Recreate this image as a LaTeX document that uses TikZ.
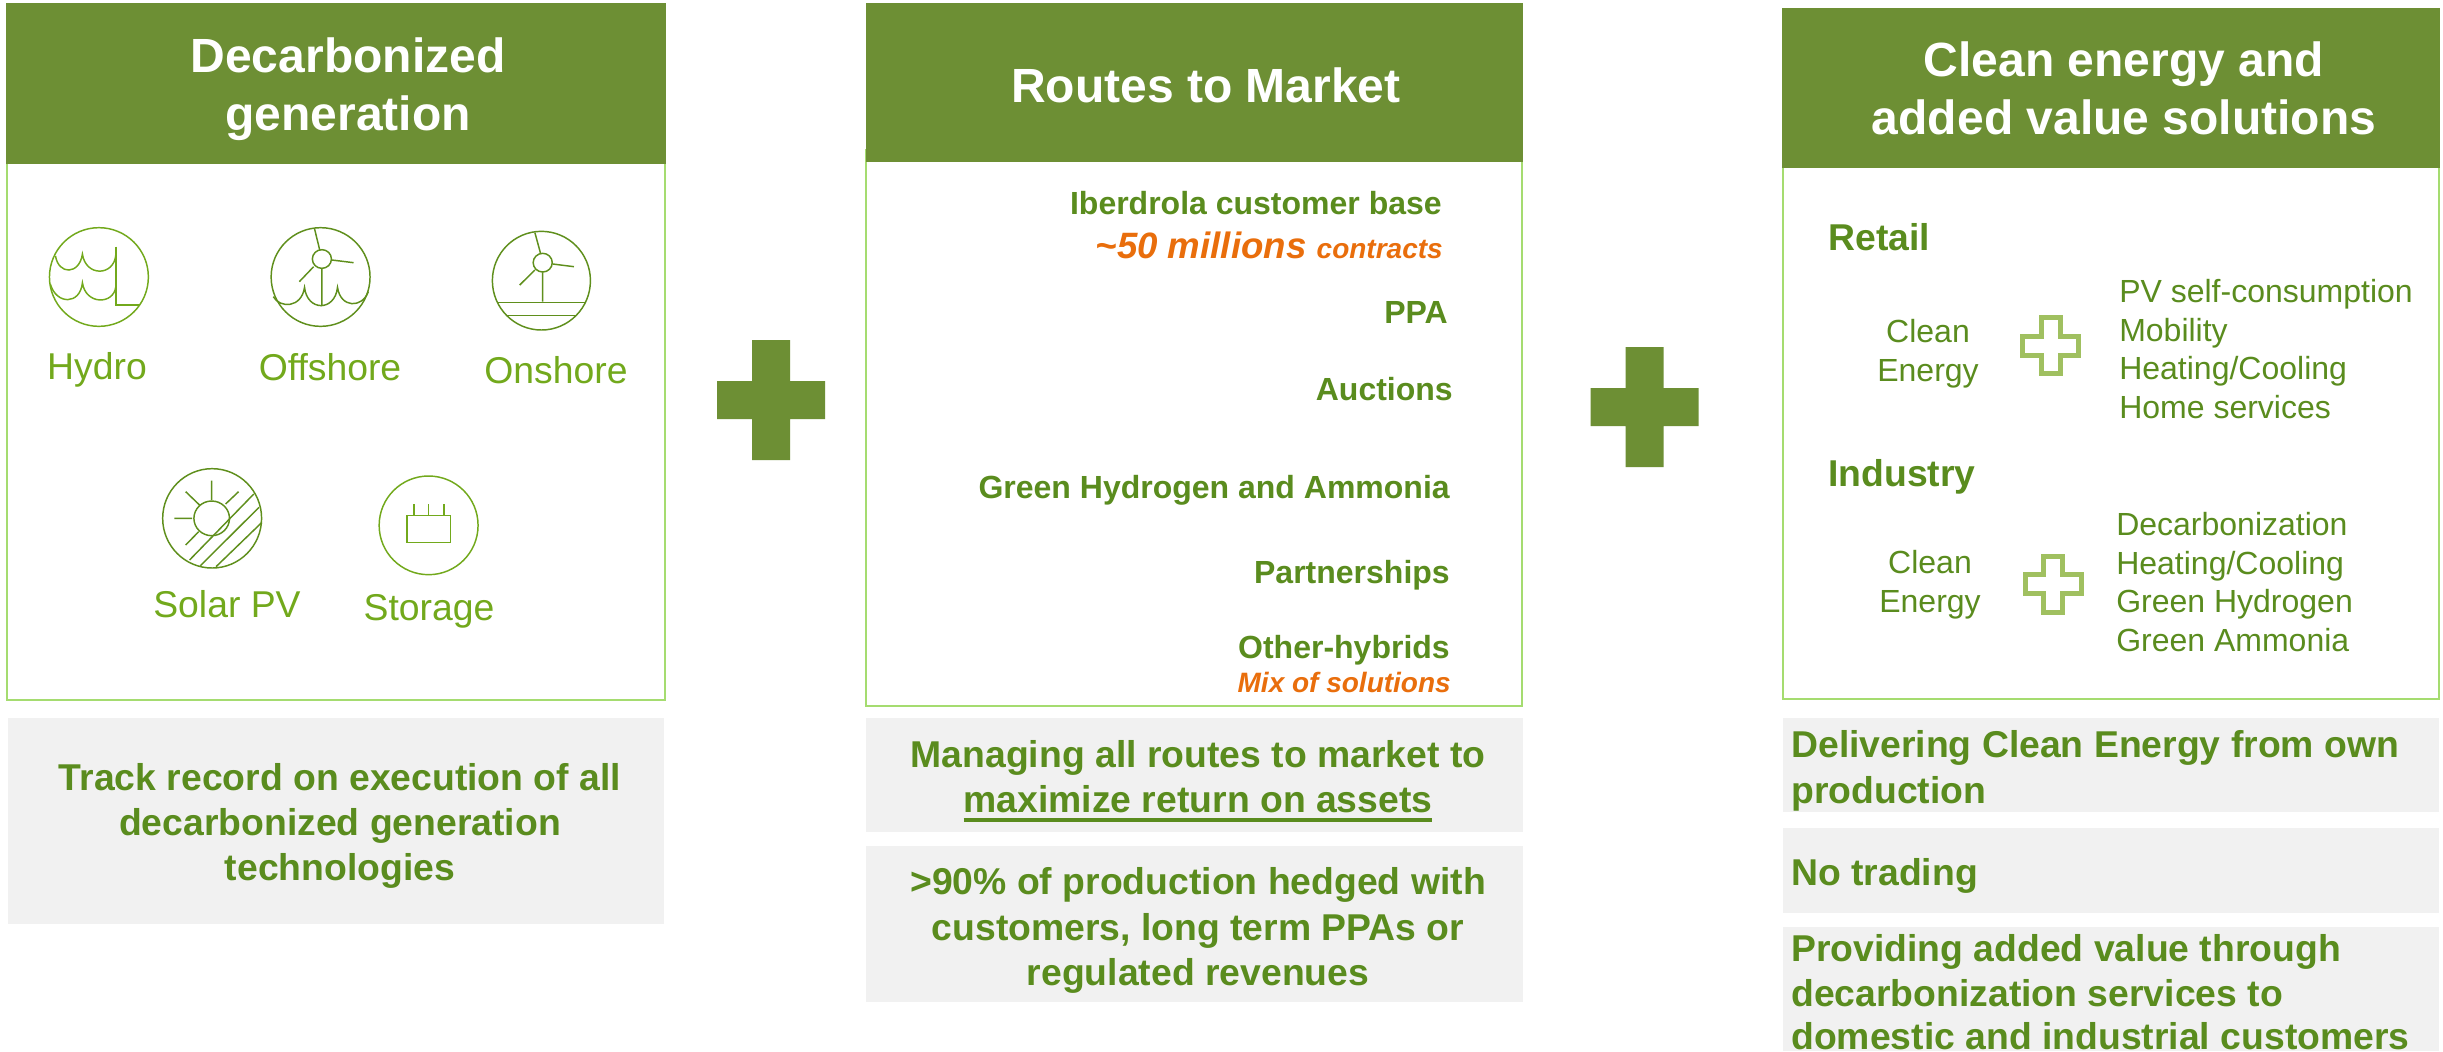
\documentclass[tikz,border=0pt]{standalone}
\usepackage{fontspec}
\setmainfont{Liberation Sans}
\definecolor{hdr}{HTML}{6D8F34}
\definecolor{edge}{HTML}{A5DC70}
\definecolor{txt}{HTML}{5A8C1E}
\definecolor{iconA}{HTML}{72A91C}
\definecolor{iconB}{HTML}{5F8F1C}
\definecolor{orng}{HTML}{E96E0C}
\definecolor{gry}{HTML}{F1F1F1}
\definecolor{plusl}{HTML}{A0C060}
\newcommand{\myul}[1]{\setbox0\hbox{#1}\rlap{\copy0}\rule[-6.75pt]{\wd0}{3pt}}
\tikzset{
 x=0.75pt,y=-0.75pt,
 hdrbox/.style={fill=hdr,draw=none},
 bodybox/.style={draw=edge,line width=1.5pt,fill=white},
 grybox/.style={fill=gry,draw=none},
 htxt/.style={text=white,font=\bfseries\fontsize{36}{43.5}\selectfont,align=center,inner sep=0},
 gtxt/.style={text=txt,font=\bfseries\fontsize{28}{34}\selectfont,inner sep=0},
 rt/.style={text=txt,font=\bfseries\fontsize{24}{27}\selectfont,anchor=base east,inner sep=0},
 lab/.style={text=iconA,font=\fontsize{28}{32}\selectfont,anchor=base,inner sep=0},
 list/.style={text=txt,font=\fontsize{24}{29}\selectfont,inner sep=0},
 icon/.style={line width=1.1pt,draw=iconA},
 iconb/.style={line width=1.1pt,draw=iconB},
}
\begin{document}
\begin{tikzpicture}
\useasboundingbox (0,0) rectangle (2443,1051);
\fill[white] (0,0) rectangle (2443,1051);
% boxes
\draw[bodybox] (7,150) rectangle (665,700);
\fill[hdrbox] (6,3) rectangle (666,164);
\draw[bodybox] (866,150) rectangle (1522,706);
\fill[hdrbox] (866,3) rectangle (1523,162);
\draw[bodybox] (1783,150) rectangle (2439,699);
\fill[hdrbox] (1782,8) rectangle (2440,168);
% header text
\node[htxt] (h1) at (348,89.5) {Decarbonized\\generation};
\node[htxt] (h2) at (1206,85) {Routes to Market};
\node[htxt] (h3) at (2124,88.5) {Clean energy and\\added value solutions};
% gray
\fill[grybox] (8,718) rectangle (664,924);
\fill[grybox] (866,718) rectangle (1523,832);
\fill[grybox] (866,846) rectangle (1523,1002);
\fill[grybox] (1783,718) rectangle (2439,812);
\fill[grybox] (1783,828) rectangle (2439,913);
\fill[grybox] (1783,927) rectangle (2439,1051);
\node[gtxt,align=center] (g1) at (340,826) {Track record on execution of all\\decarbonized generation\\technologies};
\node[gtxt,align=center] (g2) at (1198,781) {Managing all routes to market to\\\myul{maximize return on assets}};
\node[gtxt,align=center] (g3) at (1198,930.5) {>90\% of production hedged with\\customers, long term PPAs or\\regulated revenues};
\node[gtxt,anchor=base west] (g4) at (1791,757) {Delivering Clean Energy from own};
\node[gtxt,anchor=base west] (g4b) at (1791,803) {production};
\node[gtxt,anchor=base west] (g5) at (1791,885) {No trading};
\node[gtxt,anchor=base west] (g6) at (1791,961) {Providing added value through};
\node[gtxt,anchor=base west] (g6b) at (1791,1006) {decarbonization services to};
\node[gtxt,anchor=base west] (g6c) at (1791,1049) {domestic and industrial customers};
% routes
\node[rt] (r1) at (1442,214) {Iberdrola customer base};
\node[text=orng,font=\bfseries\itshape\fontsize{27.5}{30}\selectfont,anchor=base east,inner sep=0] (r2) at (1443,258) {\textasciitilde 50 millions \fontsize{21}{24}\selectfont contracts};
\node[rt] (r3) at (1448,323) {PPA};
\node[rt] (r4) at (1453,400) {Auctions};
\node[rt] (r5) at (1450,498) {Green Hydrogen and Ammonia};
\node[rt] (r6) at (1450,583) {Partnerships};
\node[rt] (r7) at (1450,658) {Other-hybrids};
\node[text=orng,font=\bfseries\itshape\fontsize{21}{24}\selectfont,anchor=base east,inner sep=0] (r8) at (1451,692) {Mix of solutions};
% right
\node[text=txt,font=\bfseries\fontsize{28}{32}\selectfont,anchor=base west,inner sep=0] (s1) at (1828,250) {Retail};
\node[text=txt,font=\bfseries\fontsize{28}{32}\selectfont,anchor=base west,inner sep=0] (s2) at (1828,486) {Industry};
\node[list,align=center] (c1) at (1928,354) {Clean\\Energy};
\node[list,align=center] (c2) at (1930,585) {Clean\\Energy};
\node[list,align=left,anchor=west] (l1) at (2119,349) {PV self-consumption\\Mobility\\Heating/Cooling\\Home services};
\node[list,align=left,anchor=west] (l2) at (2116,582) {Decarbonization\\Heating/Cooling\\Green Hydrogen\\Green Ammonia};
% plus signs
\newcommand{\bigplus}[2]{\fill[hdr] (#1-54,#2-19) -- (#1-19,#2-19) -- (#1-19,#2-60) -- (#1+19,#2-60) -- (#1+19,#2-19) -- (#1+54,#2-19) -- (#1+54,#2+19) -- (#1+19,#2+19) -- (#1+19,#2+60) -- (#1-19,#2+60) -- (#1-19,#2+19) -- (#1-54,#2+19) -- cycle;}
\bigplus{771}{400}
\bigplus{1644.5}{407}
\newcommand{\smallplus}[2]{\draw[plusl,line width=3.75pt,miter limit=10] (#1-28,#2-9.5) -- (#1-9.5,#2-9.5) -- (#1-9.5,#2-28) -- (#1+9.5,#2-28) -- (#1+9.5,#2-9.5) -- (#1+28,#2-9.5) -- (#1+28,#2+9.5) -- (#1+9.5,#2+9.5) -- (#1+9.5,#2+28) -- (#1-9.5,#2+28) -- (#1-9.5,#2+9.5) -- (#1-28,#2+9.5) -- cycle;}
\smallplus{2050.5}{345.5}
\smallplus{2053}{584}
% labels
\node[lab] (t1) at (97,379) {Hydro};
\node[lab] (t2) at (330,380) {Offshore};
\node[lab] (t3) at (556,383) {Onshore};
\node[lab] (t4) at (227,617) {Solar PV};
\node[lab] (t5) at (429,620) {Storage};
% icons in zoom coordinates
\begin{scope}[x=0.75pt/2.305,y=-0.25pt,shift={(0,0)},yshift=-135pt]
\draw[icon] (228,291) ellipse [x radius=114,y radius=148];
\draw[icon] (128,228) .. controls (135,285) and (183,285) .. (190,222) .. controls (197,290) and (262,290) .. (267,225);
\draw[icon] (267,200) -- (267,375) -- (322,375);
\draw[icon] (116,312) .. controls (130,375) and (185,375) .. (190,308) .. controls (197,375) and (262,375) .. (267,320);
\draw[iconb] (739,291) ellipse [x radius=114,y radius=148];
\draw[iconb] (742,237) ellipse [x radius=22,y radius=28];
\draw[iconb] (725,146) -- (737,210) (765,240) -- (815,248) (723,260) -- (690,305) (742,265) -- (742,378);
\draw[iconb] (630,350) .. controls (645,385) and (695,385) .. (702,322) .. controls (708,395) and (772,395) .. (778,322) .. controls (785,385) and (835,385) .. (849,335);
\draw[iconb] (1248,302) ellipse [x radius=113,y radius=148];
\draw[iconb] (1251,248) ellipse [x radius=22,y radius=28];
\draw[iconb] (1233,158) -- (1246,220) (1274,252) -- (1323,260) (1233,270) -- (1198,315) (1251,277) -- (1251,365);
\draw[iconb] (1148,367) -- (1350,367) (1168,407) -- (1328,407);
\draw[iconb] (489,1015) ellipse [x radius=114,y radius=149];
\draw[iconb] (488,1015) ellipse [x radius=41,y radius=52];
\draw[iconb] (488,902) -- (488,960) (428,935) -- (460,975) (550,935) -- (520,972) (402,1015) -- (443,1015) (428,1095) -- (458,1055);
\draw[iconb] (585,942) -- (437,1140) (597,982) -- (462,1157) (603,1028) -- (498,1160);
\draw[icon] (988,1036) ellipse [x radius=114,y radius=148];
\draw[icon] (938,1007) rectangle (1039,1088);
\draw[icon] (954,972) -- (954,1007) (988,972) -- (988,1007) (1023,972) -- (1023,1007);
\end{scope}
\end{tikzpicture}
\end{document}
